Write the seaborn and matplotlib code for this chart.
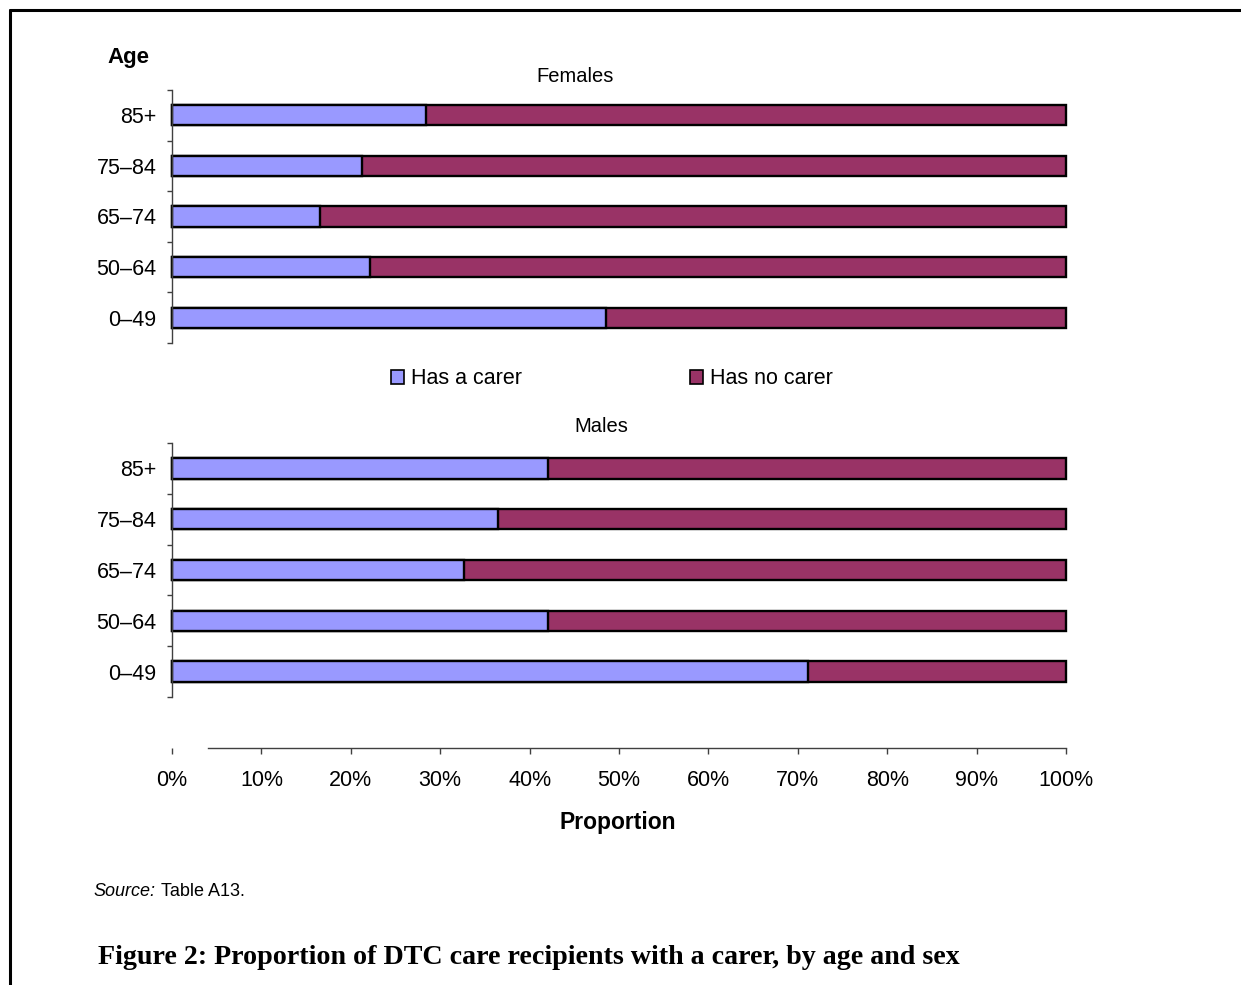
import numpy as np
import pandas as pd
import matplotlib
matplotlib.use('Agg')
import matplotlib.pyplot as plt
from matplotlib.patches import Patch
from matplotlib.lines import Line2D
from matplotlib.ticker import FixedLocator, PercentFormatter
import seaborn as sns

ages = ['85+', '75–84', '65–74', '50–64', '0–49']
fem_carer = [28.4, 21.3, 16.6, 22.1, 48.5]
fem_nocarer = [71.6, 78.7, 83.4, 77.9, 51.5]
male_carer = [42.1, 36.5, 32.7, 42.1, 71.1]
male_nocarer = [57.9, 63.5, 67.3, 57.9, 28.9]
x_ticks = [0, 10, 20, 30, 40, 50, 60, 70, 80, 90, 100]

BLUE = '#9999FF'
MAROON = '#993366'
W, H = 1241, 985

sns.set_style('white')
plt.rcParams['font.family'] = ['Liberation Sans', 'DejaVu Sans']
plt.rcParams['text.color'] = 'black'
plt.rcParams['xtick.color'] = '#404040'
plt.rcParams['ytick.color'] = '#404040'
plt.rcParams['xtick.labelcolor'] = 'black'
plt.rcParams['ytick.labelcolor'] = 'black'


def fx(px):
    return px / W


def fy(py):
    return 1 - py / H


def panel(fig, top, bottom, carer, nocarer):
    ax = fig.add_axes([fx(172), fy(bottom), fx(1066 - 172), (bottom - top) / H])
    d = pd.DataFrame({'Age': ages, 'carer': carer,
                      'total': np.array(carer) + np.array(nocarer)})
    sns.barplot(data=d, x='total', y='Age', order=ages, color=MAROON, saturation=1,
                width=0.4, edgecolor='black', linewidth=1.7, ax=ax)
    sns.barplot(data=d, x='carer', y='Age', order=ages, color=BLUE, saturation=1,
                width=0.4, edgecolor='black', linewidth=1.7, ax=ax)
    for p in ax.patches:
        p.set_clip_on(False)
    ax.set_xlim(0, 100)
    ax.set_ylim(4.5, -0.5)
    for s in ['top', 'right', 'bottom']:
        ax.spines[s].set_visible(False)
    ax.spines['left'].set_color('#404040')
    ax.spines['left'].set_linewidth(1.0)
    ax.set_xticks([])
    ax.set_xlabel('')
    ax.set_ylabel('')
    ax.yaxis.set_minor_locator(FixedLocator(np.arange(-0.5, 5, 1)))
    ax.tick_params(axis='y', which='major', left=False, length=0, pad=11, labelsize=15.5)
    ax.tick_params(axis='y', which='minor', left=True, length=3.6, width=1.0)
    return ax


fig = plt.figure(figsize=(W / 100, H / 100), dpi=100)

panel(fig, 90, 343, fem_carer, fem_nocarer)
panel(fig, 443, 697, male_carer, male_nocarer)

# separate x axis (Excel style)
axx = fig.add_axes([fx(172), fy(748), fx(1066 - 172), 0.001])
axx.set_xlim(0, 100)
axx.set_yticks([])
for s in ['top', 'right', 'left']:
    axx.spines[s].set_visible(False)
axx.spines['bottom'].set_bounds(4, 100)
axx.spines['bottom'].set_color('#404040')
axx.spines['bottom'].set_linewidth(1.0)
axx.set_xticks(x_ticks)
axx.xaxis.set_major_formatter(PercentFormatter(decimals=0))
axx.tick_params(axis='x', bottom=True, direction='out', length=4, width=1.0,
                pad=12, labelsize=15.5)
axx.patch.set_alpha(0)

fig.text(fx(128), fy(57), 'Age', ha='center', va='center', fontsize=16, fontweight='bold')
fig.text(fx(575), fy(77), 'Females', ha='center', va='center', fontsize=14.5)
fig.text(fx(601), fy(427), 'Males', ha='center', va='center', fontsize=14.5)
fig.text(fx(618), fy(822), 'Proportion', ha='center', va='center', fontsize=16.5,
         fontweight='bold')

handles = [Patch(facecolor=BLUE, edgecolor='black', linewidth=1.2),
           Patch(facecolor=MAROON, edgecolor='black', linewidth=1.2)]
fig.legend(handles, ['Has a carer', 'Has no carer'], loc='center',
           bbox_to_anchor=(fx(612), fy(379)), ncol=2, frameon=False, fontsize=15.5,
           handlelength=0.6, handleheight=0.6, handletextpad=0.35, columnspacing=7.8)

fig.text(fx(93), fy(892), 'Source:', ha='left', va='center', fontsize=13, style='italic')
fig.text(fx(161), fy(892), 'Table A13.', ha='left', va='center', fontsize=13)
fig.text(fx(98), fy(958),
         'Figure 2: Proportion of DTC care recipients with a carer, by age and sex',
         ha='left', va='center', fontsize=20.2, fontweight='bold',
         family=['Liberation Serif', 'DejaVu Serif'])

# page border
fig.add_artist(Line2D([fx(10), 1], [fy(10), fy(10)], color='black', lw=2.2))
fig.add_artist(Line2D([fx(10), fx(10)], [fy(10), 0], color='black', lw=2.2))

fig.savefig('out.png', dpi=100)
